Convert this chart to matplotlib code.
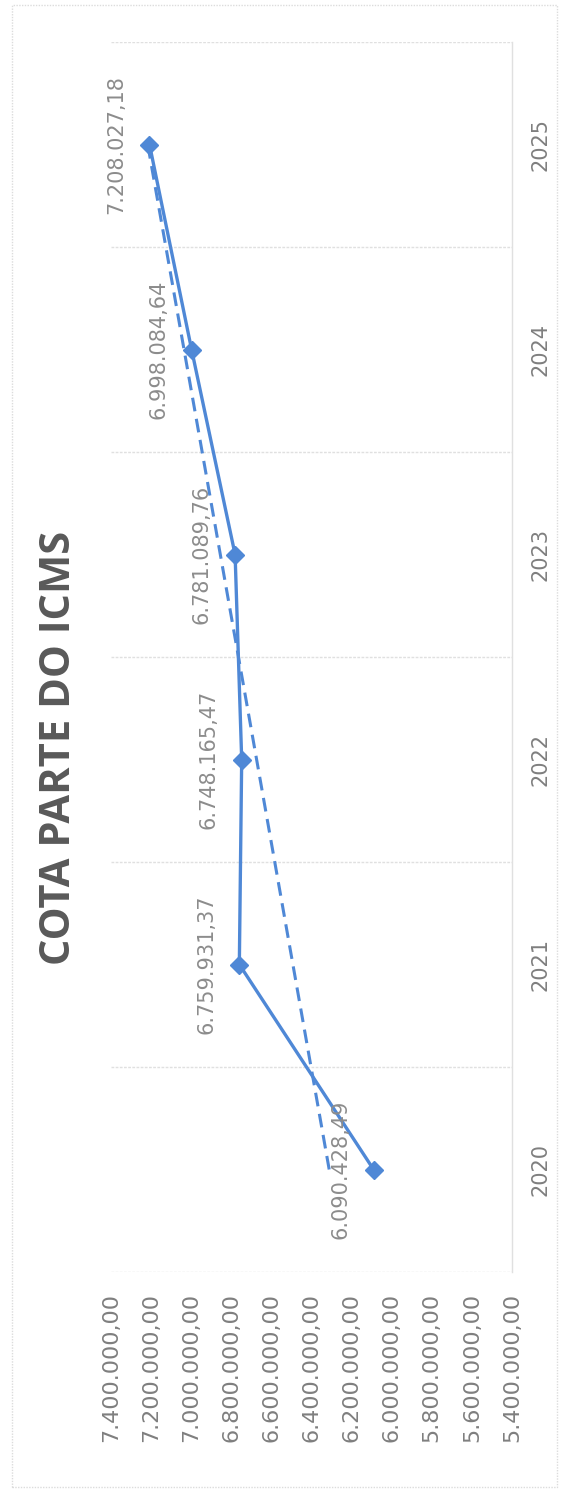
import numpy as np
import matplotlib
matplotlib.use("Agg")
import matplotlib.pyplot as plt
from matplotlib.patches import Rectangle

# ---- data ----
title = "COTA PARTE DO ICMS"
years = [2020, 2021, 2022, 2023, 2024, 2025]
values = [6090428.49, 6759931.37, 6748165.47, 6781089.76, 6998084.64, 7208027.18]
value_ticks = [5400000, 5600000, 5800000, 6000000, 6200000, 6400000,
               6600000, 6800000, 7000000, 7200000, 7400000]

def br(v):
    s = f"{v:,.2f}"
    return s.replace(",", "X").replace(".", ",").replace("X", ".")

blue = "#4f88d6"
W, H = 565, 1491
fig = plt.figure(figsize=(W / 100, H / 100), dpi=100)

# chart area border
fig.patches.append(Rectangle((12 / W, 4 / H), 1 - 20 / W, 1 - 9 / H, transform=fig.transFigure,
                             fill=False, edgecolor="#dcdcdc", lw=1.0, ls=(0, (1, 1))))

left, right, top, bottom = 111, 512, 42, 1272
ax = fig.add_axes([left / W, 1 - bottom / H, (right - left) / W, (bottom - top) / H])

pos = np.arange(len(years))
ax.set_xlim(value_ticks[-1], value_ticks[0])  # inverted: high values at left
ax.set_ylim(-0.5, len(years) - 0.5)

# category boundary gridlines
for b in np.arange(-0.5, len(years), 1.0):
    ax.axhline(b, color="#e0e0e0", lw=1.0, ls=(0, (2, 1)), zorder=0)

# trend line (linear fit)
coef = np.polyfit(pos, values, 1)
trend = np.polyval(coef, pos)
ax.plot(trend, pos, color=blue, lw=2.2, ls=(0, (4.5, 2.5)), zorder=2)

ax.plot(values, pos, color=blue, lw=2.4, marker="D", markersize=9, zorder=3)

for v, p in zip(values, pos):
    ax.annotate(br(v), (v, p), xytext=(-24, 0), textcoords="offset points",
                rotation=90, ha="center", va="center", fontsize=15,
                color="#8c8c8c", family="DejaVu Sans")

ax.set_xticks(value_ticks)
ax.set_xticklabels([br(v) for v in value_ticks], rotation=90, fontsize=16,
                   color="#7f7f7f", family="DejaVu Sans")
ax.set_yticks(pos)
ax.set_yticklabels([str(y) for y in years], rotation=90, fontsize=15,
                   color="#7f7f7f", family="DejaVu Sans", va="center")
ax.yaxis.tick_right()
ax.tick_params(axis="x", length=0, pad=15)
ax.tick_params(axis="y", length=0, pad=13)

for s in ["top", "left", "bottom"]:
    ax.spines[s].set_visible(False)
ax.spines["right"].set_color("#e0e0e0")
ax.spines["right"].set_linewidth(1.0)

fig.text(60 / W, 1 - 748 / H, title, rotation=90, ha="center", va="center",
         fontsize=30, fontweight="bold", color="#595959", family="Open Sans")

fig.savefig("out.png", dpi=100)
